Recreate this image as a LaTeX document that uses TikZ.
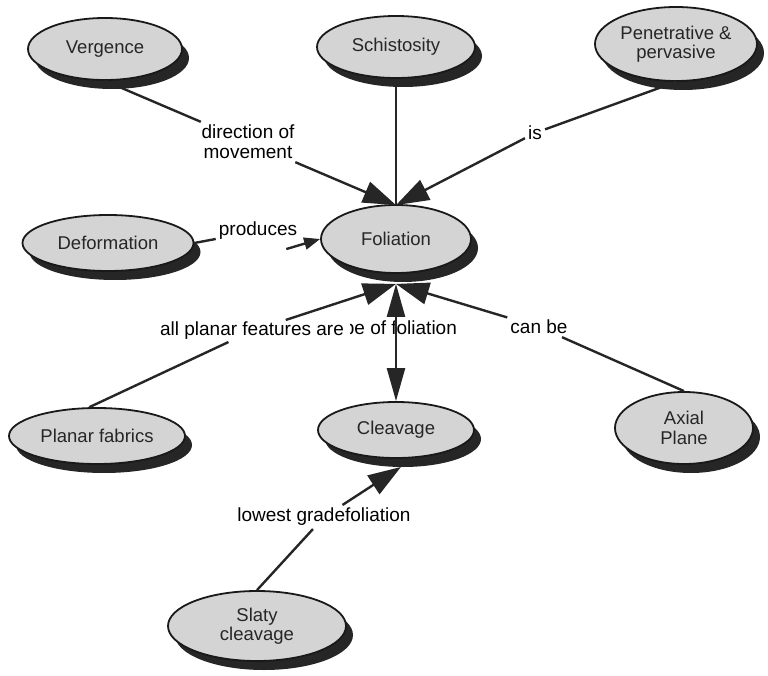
\documentclass[tikz,border=0pt]{standalone}
\usepackage{fontspec}
\setmainfont{Liberation Sans}
\usetikzlibrary{shapes.geometric,shadows,arrows.meta}
\begin{document}
\begin{tikzpicture}[x=1pt,y=-1pt,
  concept/.style={ellipse, draw=black!90, line width=1.8pt, fill=black!17,
    inner sep=0pt, align=center, text=black!85,
    font=\fontsize{18.5}{19.5}\selectfont,
    drop shadow={shadow xshift=7pt, shadow yshift=-9pt, opacity=1, fill=black!85}},
  linkword/.style={font=\fontsize{19}{20}\selectfont, align=center, inner sep=3pt},
  link/.style={line width=2.4pt, draw=black!85},
  flow/.style={link, -{Triangle[length=33pt,width=22pt]}},
  smallflow/.style={link, -{Triangle[length=16pt,width=12pt]}},
]
\useasboundingbox (0,0) rectangle (768,676);

% concepts
\node[concept, minimum width=154pt, minimum height=62pt] (verg)   at (105,49)  {Vergence};
\node[concept, minimum width=158pt, minimum height=62pt] (schist) at (396,47)  {Schistosity};
\node[concept, minimum width=162pt, minimum height=74pt] (pen)    at (676,44)  {Penetrative \&\\pervasive};
\node[concept, minimum width=171pt, minimum height=56pt] (deform) at (108,243) {Deformation};
\node[concept, minimum width=150pt, minimum height=68pt] (fol)    at (396,239) {Foliation};
\node[concept, minimum width=176pt, minimum height=56pt] (plan)   at (97,436)  {Planar fabrics};
\node[concept, minimum width=156pt, minimum height=56pt] (cleav)  at (396,430) {Cleavage};
\node[concept, minimum width=138pt, minimum height=72pt] (axial)  at (684,428) {Axial\\Plane};
\node[concept, minimum width=178pt, minimum height=70pt] (slaty)  at (257,626) {Slaty\\cleavage};

% linking phrases
\node[linkword] (lmove) at (248,142) {direction of\\movement};
\node[linkword] (lis)   at (535,133) {is};
\node[linkword] (lprod) at (258,231) {produces};
\node[linkword] (ltype) at (393,330) {type of foliation};
\node[linkword, fill=white, inner ysep=2pt, inner xsep=6pt] (lplan) at (252,331) {all planar features are};
\node[linkword] (lcan)  at (539,327) {can be};
\node[linkword] (llow)  at (324,517) {lowest gradefoliation};

% connectors
\draw[link] (verg.south) -- (lmove);
\draw[flow] (lmove) -- ([yshift=-1pt]fol.north);

\draw[link] (schist.south) -- (fol.north);

\draw[link] (pen.south) -- (lis);
\draw[flow] (lis) -- ([yshift=-1pt]fol.north);

\draw[link] (deform.east) -- (lprod);
\draw[smallflow] ([xshift=-14pt,yshift=-6pt]lprod.south east) -- (fol.west);

\draw[link] (plan.105) -- (lplan);
\draw[flow] (lplan) -- ([yshift=-10pt]fol.south);

\draw[link, {Triangle[length=33pt,width=18pt]}-{Triangle[length=33pt,width=18pt]}]
  ([yshift=-10pt]fol.south) -- (cleav.north);

\draw[link] (axial.north) -- (lcan);
\draw[flow] (lcan) -- ([yshift=-10pt]fol.south);

\draw[link] (slaty.north) -- (llow);
\draw[flow] (llow) -- ([xshift=5pt,yshift=-8pt]cleav.south);
\end{tikzpicture}
\end{document}
